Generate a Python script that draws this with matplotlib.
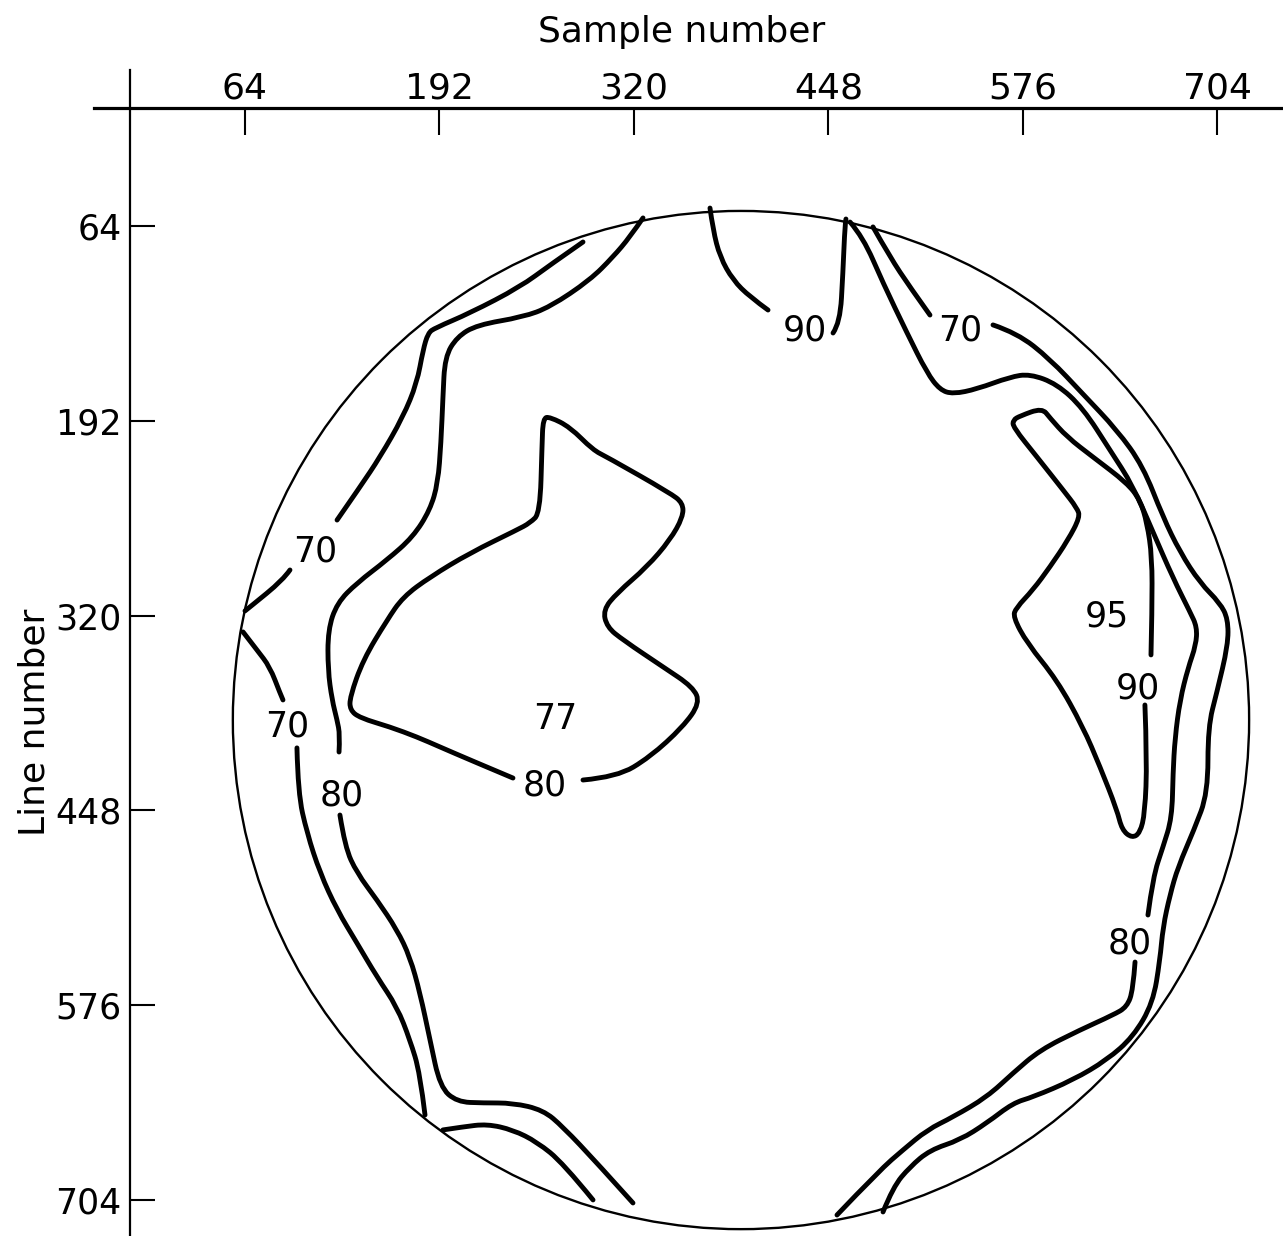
import matplotlib
matplotlib.use("Agg")
import matplotlib.pyplot as plt
from matplotlib.patches import Circle, PathPatch
from matplotlib.path import Path

plt.rcParams['font.family'] = ['DejaVu Sans']

# ---- axes ticks ----
SAMPLE_TICKS = [64, 192, 320, 448, 576, 704]
LINE_TICKS = [64, 192, 320, 448, 576, 704]

# ---- field of view (sample, line) ----
FIELD_CENTER = (390.5, 388.6)
FIELD_RADIUS = 334.5

# ---- contour segments, vertices as (sample number, line number) ----
c70_upper_left_a = [(286.5, 74.5), (264.8, 89.6), (245.0, 104.1), (212.1, 121.2), (189.1, 131.0),
                    (184.5, 134.3), (181.2, 145.5), (177.2, 167.1), (168.0, 189.5), (152.9, 215.8),
                    (139.7, 235.5), (124.6, 257.2)]
c70_upper_left_b = [(93.6, 290.0), (89.0, 296.6), (67.3, 314.3), (64.0, 316.9)]

c80_left_a = [(326.0, 58.7), (317.4, 71.2), (306.2, 84.4), (291.1, 99.5), (264.8, 117.2),
              (247.0, 123.8), (216.7, 129.0), (203.5, 136.9), (195.6, 150.1), (194.3, 176.3),
              (193.0, 206.6), (191.0, 232.8), (185.8, 250.6), (174.6, 268.3), (157.5, 283.4),
              (137.7, 298.5), (124.6, 311.7), (118.6, 329.4), (118.6, 355.7), (121.3, 375.4),
              (124.6, 388.5), (126.5, 398.4), (125.9, 409.6)]
c80_left_b = [(126.5, 451.0), (129.8, 472.0), (137.7, 489.1), (150.9, 506.8), (164.1, 526.5),
              (172.6, 544.3), (179.2, 567.9), (185.8, 598.8), (192.4, 629.7), (203.5, 639.5),
              (220.7, 640.2), (240.4, 640.2), (260.2, 644.8), (273.3, 655.9), (295.7, 679.6),
              (319.4, 705.9)]

c70_lower_left_a = [(62.7, 330.7), (71.9, 342.6), (80.4, 353.7), (87.0, 370.8), (89.0, 375.4)]
c70_lower_left_b = [(98.2, 406.9), (98.9, 436.5), (104.8, 462.8), (113.4, 489.1), (124.6, 513.4),
                    (137.7, 535.1), (150.9, 557.4), (164.1, 577.1), (172.6, 598.8), (179.2, 620.5),
                    (182.5, 648.1)]
c70_bottom_left = [(194.3, 657.9), (207.5, 655.9), (223.3, 654.0), (240.4, 657.9), (256.2, 665.8),
                   (273.3, 679.6), (293.1, 703.9)]

c80_center = [(286.5, 428.0), (308.9, 426.0), (330.6, 412.9), (352.3, 393.1), (363.5, 377.4),
              (358.9, 366.9), (339.2, 353.7), (312.8, 336.0), (302.3, 327.5), (299.7, 316.3),
              (308.9, 305.1), (328.6, 288.0), (343.8, 270.3), (352.3, 255.2), (352.3, 246.0),
              (343.8, 239.4), (302.3, 215.8), (293.1, 211.2), (277.9, 196.1), (264.8, 189.5),
              (260.2, 190.1), (259.5, 209.2), (258.2, 252.6), (251.6, 259.1), (243.0, 263.7),
              (212.1, 278.8), (185.8, 294.6), (168.0, 307.7), (157.5, 322.9), (141.7, 349.1),
              (133.1, 373.4), (133.1, 382.0), (139.7, 387.2), (159.4, 393.1), (177.2, 399.7),
              (192.4, 406.3), (212.1, 414.8), (240.4, 426.7)]

c90_top_a = [(370.1, 52.2), (372.1, 66.6), (376.7, 84.4), (385.2, 99.5), (396.4, 110.6),
             (408.3, 119.2)]
c90_top_b = [(451.1, 134.3), (455.7, 127.7), (457.6, 94.9), (459.0, 62.0), (459.6, 59.4)]

c80_right_a = [(462.3, 61.4), (470.8, 71.2), (484.0, 101.4), (499.8, 134.3), (513.0, 160.6),
               (521.5, 171.7), (530.1, 174.4), (545.9, 171.1), (567.6, 163.2), (580.7, 161.2),
               (598.5, 167.8), (615.6, 183.6), (633.4, 211.2), (648.6, 234.8), (661.7, 265.0),
               (674.9, 295.3), (686.1, 317.6), (690.7, 327.5), (690.0, 339.3), (684.8, 354.4),
               (679.5, 375.4), (676.2, 400.4), (674.9, 423.4), (674.2, 452.9), (668.3, 472.0),
               (661.7, 491.7), (658.4, 516.7)]
c80_right_b = [(649.9, 547.6), (648.6, 565.9), (644.6, 577.1), (635.4, 582.4), (613.7, 592.2),
               (587.3, 605.4), (569.6, 620.5), (552.4, 636.3), (530.1, 649.4), (513.0, 657.9),
               (497.1, 671.1), (482.0, 684.2), (453.7, 713.8)]

c70_right_a = [(477.4, 64.6), (488.6, 84.4), (501.7, 104.1), (514.9, 122.5)]
c70_right_b = [(556.4, 129.0), (572.2, 134.3), (593.9, 151.4), (615.6, 174.4), (638.0, 198.0),
               (655.1, 221.7), (668.3, 255.2), (679.5, 278.2), (692.7, 298.5), (705.8, 311.7),
               (711.1, 322.2), (711.1, 339.3), (703.8, 370.2), (697.9, 393.1), (697.9, 436.5),
               (688.7, 460.8), (678.2, 485.1), (672.9, 503.5), (668.3, 524.6), (666.3, 546.2),
               (661.7, 574.5), (648.6, 596.8), (631.4, 611.9), (609.1, 625.1), (582.7, 636.3),
               (569.6, 640.2), (552.4, 653.3), (534.7, 664.5), (514.9, 671.1), (501.7, 682.2),
               (490.6, 695.4), (484.0, 711.8)]

c90_right = [(656.4, 378.7), (657.8, 414.8), (656.4, 449.6), (653.2, 462.8), (647.9, 466.1),
             (641.3, 460.8), (638.0, 447.7), (626.9, 419.4), (615.6, 393.1), (598.5, 362.3),
             (578.8, 338.0), (569.6, 320.9), (571.5, 315.0), (582.7, 303.1), (593.9, 288.0),
             (605.8, 270.3), (613.7, 255.2), (611.7, 249.3), (602.5, 237.4), (585.4, 215.8),
             (569.6, 196.1), (569.6, 191.5), (574.2, 188.8), (588.7, 183.6), (593.9, 190.1),
             (605.1, 202.6), (622.2, 215.8), (644.6, 232.8), (653.2, 244.0), (657.8, 259.1),
             (661.1, 281.4), (661.1, 316.3), (660.4, 345.8)]

CONTOUR_SEGMENTS = [
    c70_upper_left_a, c70_upper_left_b, c80_left_a, c80_left_b,
    c70_lower_left_a, c70_lower_left_b, c70_bottom_left, c80_center,
    c90_top_a, c90_top_b, c80_right_a, c80_right_b,
    c70_right_a, c70_right_b, c90_right,
]

# ---- contour value labels: (text, sample, line) ----
CONTOUR_LABELS = [
    ("70", 110.1, 275.6), ("70", 91.6, 390.5), ("80", 127.8, 435.9),
    ("77", 268.1, 385.9), ("80", 261.5, 429.3), ("90", 432.6, 130.4),
    ("70", 534.7, 130.4), ("95", 631.5, 318.3), ("90", 651.8, 365.6),
    ("80", 646.6, 533.1),
]


def smooth_path(points):
    """Pen-like path through the vertices: quadratic Beziers between edge midpoints."""
    verts = [points[0]]
    codes = [Path.MOVETO]
    if len(points) == 2:
        verts.append(points[1])
        codes.append(Path.LINETO)
        return Path(verts, codes)
    for i in range(1, len(points) - 1):
        p, q = points[i], points[i + 1]
        end = ((p[0] + q[0]) / 2, (p[1] + q[1]) / 2)
        if i == len(points) - 2:
            end = q
        verts += [p, end]
        codes += [Path.CURVE3, Path.CURVE3]
    return Path(verts, codes)


W, H = 1283, 1236
fig = plt.figure(figsize=(W / 100, H / 100), dpi=100)
ax = fig.add_axes([94 / W, 0.0, (W - 94) / W, (H - 70) / H])
ax.set_xlim(-35.4, 747.3)
ax.set_ylim(727.6, -38.5)

# axes lines
for side in ("right", "bottom"):
    ax.spines[side].set_visible(False)
ax.spines["top"].set_position(("data", -13.5))
ax.spines["left"].set_position(("data", -11.7))
ax.spines["top"].set_linewidth(2.3)
ax.spines["left"].set_linewidth(1.6)

ax.xaxis.tick_top()
ax.set_xticks(SAMPLE_TICKS)
ax.set_yticks(LINE_TICKS)
ax.set_xticklabels([str(v) for v in SAMPLE_TICKS])
ax.set_yticklabels([str(v) for v in LINE_TICKS])
ax.tick_params(axis="x", direction="in", length=19.5, width=1.5, pad=1.5, labelsize=26)
ax.tick_params(axis="y", direction="in", length=18, width=1.5, pad=6, labelsize=25)

# circular field boundary
ax.add_patch(Circle(FIELD_CENTER, FIELD_RADIUS, fill=False, edgecolor="black", linewidth=1.7))

# contour lines
for seg in CONTOUR_SEGMENTS:
    ax.add_patch(PathPatch(smooth_path(seg), fill=False, edgecolor="black", linewidth=3.5,
                           capstyle="round", joinstyle="round"))

for text, sx, ly in CONTOUR_LABELS:
    ax.text(sx, ly, text, fontsize=25, ha="center", va="center_baseline", color="black")

fig.text(682 / W, 1 - 42 / H, "Sample number", fontsize=26, ha="center", va="baseline")
fig.text(35 / W, 1 - 722 / H, "Line number", fontsize=26, ha="center", va="center",
         rotation=90)

fig.savefig("out.png", dpi=100, facecolor="white")
